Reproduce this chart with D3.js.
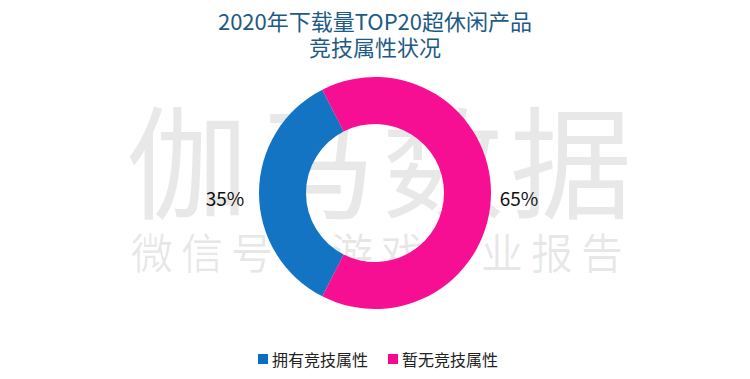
<!DOCTYPE html>
<html><head><meta charset="utf-8">
<script src="https://cdn.jsdelivr.net/npm/d3@7"></script>
<style>html,body{margin:0;padding:0;background:#fff;}svg{display:block;}</style>
</head><body>
<svg id="chart" width="750" height="379"></svg>
<script>
const titleLines = ["2020年下载量TOP20超休闲产品", "竞技属性状况"];
const categories = ["拥有竞技属性", "暂无竞技属性"];
const values = [35, 65];
const colors = ["#0a6fc0", "#f7078f"];
const watermark = ["伽马数据", "微信号：游戏产业报告"];

const svg = d3.select("#chart");
const font = "'Noto Sans CJK SC','Noto Sans',sans-serif";
const cx = 375, cy = 193, rOuter = 116, rInner = 69;

// title
svg.selectAll("text.title").data(titleLines).enter().append("text")
  .attr("class","title")
  .attr("x", 375).attr("y", (d,i)=> 20 + i*26)
  .attr("text-anchor","middle").attr("dominant-baseline","central")
  .attr("font-family", font).attr("font-size", 22)
  .attr("fill", "#1d5a85").text(d=>d);

const total = d3.sum(values);
const pie = d3.pie().sort(null).value(d=>d)
  .startAngle(-153*Math.PI/180).endAngle(207*Math.PI/180);
const arcs = pie(values);
const arc = d3.arc().innerRadius(rInner).outerRadius(rOuter);

// watermark (light, mostly behind the ring)
svg.append("text").attr("x", 382).attr("y", 155)
  .attr("text-anchor","middle").attr("dominant-baseline","central")
  .attr("font-family", font).attr("font-size", 122).attr("letter-spacing", 6)
  .attr("fill", "#000").attr("fill-opacity", 0.09).text(watermark[0]);
svg.append("text").attr("x", 381).attr("y", 250)
  .attr("text-anchor","middle").attr("dominant-baseline","central")
  .attr("font-family", font).attr("font-size", 42).attr("letter-spacing", 8)
  .attr("fill", "#000").attr("fill-opacity", 0.09).text(watermark[1]);

const g = svg.append("g").attr("transform", `translate(${cx},${cy})`);
g.selectAll("path").data(arcs).enter().append("path")
  .attr("d", arc).attr("fill", (d,i)=>colors[i]).attr("fill-opacity", 0.97);

// percent labels placed to the side of each slice
const labelX = d3.scaleOrdinal().domain(categories).range([-150, 144]);
g.selectAll("text.pct").data(arcs).enter().append("text")
  .attr("class","pct")
  .attr("x", (d,i)=> labelX(categories[i]))
  .attr("y", 4)
  .attr("text-anchor","middle").attr("dominant-baseline","central")
  .attr("font-family", font).attr("font-size", 19).attr("fill", "#111")
  .text(d => Math.round(d.value/total*100) + "%");

// legend
const legendX = d3.scaleOrdinal().domain(categories).range([258, 388]);
const lg = svg.selectAll("g.leg").data(categories).enter().append("g")
  .attr("transform", d => `translate(${legendX(d)},359)`);
lg.append("rect").attr("x",0).attr("y",-5).attr("width",10).attr("height",10)
  .attr("fill",(d,i)=>colors[i]);
lg.append("text").attr("x",14).attr("y",0).attr("dominant-baseline","central")
  .attr("font-family", font).attr("font-size", 16).attr("fill","#222").text(d=>d);
</script>
</body></html>
